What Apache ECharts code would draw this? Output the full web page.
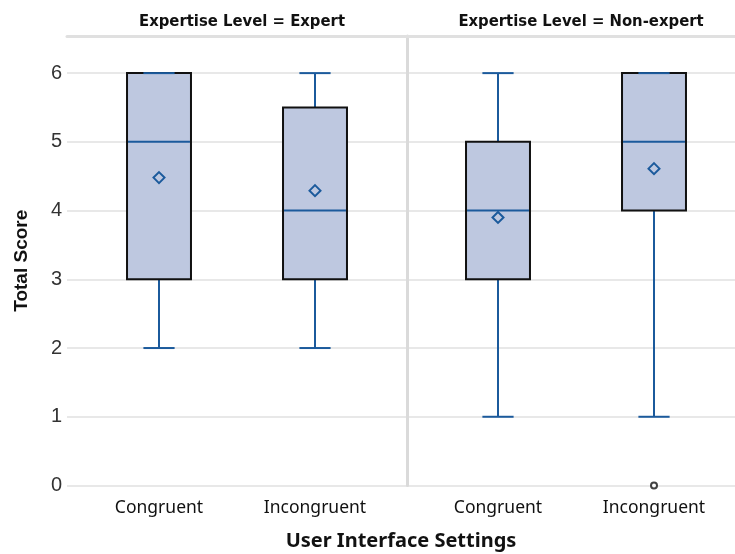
<!DOCTYPE html>
<html>
<head>
<meta charset="utf-8">
<script src="https://cdn.jsdelivr.net/npm/echarts@6/dist/echarts.min.js"></script>
<style>
  html, body { margin: 0; padding: 0; background: #fff; }
  #chart { width: 735px; height: 554px; }
</style>
</head>
<body>
<div id="chart"></div>
<script>
// Panels and categories
const panelTitles = ['Expertise Level = Expert', 'Expertise Level = Non-expert'];
const categories = ['Congruent', 'Incongruent'];
const yTicks = [0, 1, 2, 3, 4, 5, 6];

// Box statistics per panel: [min, Q1, median, Q3, max]
const expertStats = [
  [2, 3, 5, 6, 6],
  [2, 3, 4, 5.5, 6]
];
const nonExpertStats = [
  [1, 3, 4, 5, 6],
  [1, 4, 5, 6, 6]
];
// Means (diamond markers)
const expertMeans = [4.48, 4.29];
const nonExpertMeans = [3.9, 4.61];
// Outliers: [category index, value]
const expertOutliers = [];
const nonExpertOutliers = [[1, 0]];

const BLUE = '#1b5a9c';
const FILL = '#bec8e0';
const GRID_COLOR = '#e0e0e0';
const Y_MIN = 0, Y_MAX = 6.54;

function boxData(stats, means) {
  return stats.map((s, i) => [i, s[0], s[1], s[2], s[3], s[4], means[i]]);
}

function renderBox(params, api) {
  const x = api.value(0);
  const band = api.size([1, 0])[0];
  const boxW = band * 0.41;
  const capW = band * 0.2;
  const pMin = api.coord([x, api.value(1)]);
  const pQ1 = api.coord([x, api.value(2)]);
  const pMed = api.coord([x, api.value(3)]);
  const pQ3 = api.coord([x, api.value(4)]);
  const pMax = api.coord([x, api.value(5)]);
  const pMean = api.coord([x, api.value(6)]);
  const cx = pMed[0];
  const lineStyle = { stroke: BLUE, lineWidth: 2 };
  const children = [
    { type: 'line', shape: { x1: cx, y1: pQ1[1], x2: cx, y2: pMin[1] }, style: lineStyle },
    { type: 'line', shape: { x1: cx, y1: pQ3[1], x2: cx, y2: pMax[1] }, style: lineStyle },
    { type: 'rect', shape: { x: cx - boxW / 2, y: pQ3[1], width: boxW, height: pQ1[1] - pQ3[1] },
      style: { fill: FILL, stroke: '#111', lineWidth: 2 } },
    { type: 'line', shape: { x1: cx - capW / 2, y1: pMin[1], x2: cx + capW / 2, y2: pMin[1] }, style: lineStyle },
    { type: 'line', shape: { x1: cx - capW / 2, y1: pMax[1], x2: cx + capW / 2, y2: pMax[1] }, style: lineStyle },
    { type: 'line', shape: { x1: cx - boxW / 2 + 1, y1: pMed[1], x2: cx + boxW / 2 - 1, y2: pMed[1] }, style: lineStyle },
    { type: 'polygon', shape: { points: [[cx, pMean[1] - 5.5], [cx + 5.5, pMean[1]], [cx, pMean[1] + 5.5], [cx - 5.5, pMean[1]]] },
      style: { fill: 'none', stroke: BLUE, lineWidth: 2 } }
  ];
  return { type: 'group', children: children };
}

const yLabelFormatter = v => (Number.isInteger(v) && yTicks.includes(v)) ? String(v) : '';

const chart = echarts.init(document.getElementById('chart'), null, { renderer: 'canvas' });

const plotTop = 36, plotBottom = 68.5;
const headerStyle = { fontFamily: 'Liberation Sans Narrow, DejaVu Sans Condensed, sans-serif', fontWeight: 'bold', fontSize: 16.5, color: '#111' };
const catLabel = { margin: 14, fontFamily: 'Noto Sans, sans-serif', fontSize: 17.5, color: '#111' };
const topBorder = { show: true, onZero: false, lineStyle: { color: GRID_COLOR, width: 3 } };

chart.setOption({
  backgroundColor: '#fff',
  animation: false,
  title: [
    { text: panelTitles[0], left: 237, top: 8, textAlign: 'center', textStyle: headerStyle },
    { text: panelTitles[1], left: 576, top: 8, textAlign: 'center', textStyle: headerStyle },
    { text: 'User Interface Settings', left: 401, top: 530, padding: 0, textAlign: 'center',
      textStyle: { fontFamily: 'Noto Sans, sans-serif', fontWeight: 'bold', fontSize: 20, lineHeight: 22, color: '#111' } }
  ],
  grid: [
    { left: 67, width: 340, top: plotTop, bottom: plotBottom },
    { left: 407, width: 338, top: plotTop, bottom: plotBottom },
    { left: 81, width: 312, top: plotTop, bottom: plotBottom },
    { left: 420, width: 312, top: plotTop, bottom: plotBottom }
  ],
  xAxis: [
    { gridIndex: 0, type: 'value', position: 'top', min: 0, max: 1, axisLine: topBorder,
      axisTick: { show: false }, axisLabel: { show: false }, splitLine: { show: false } },
    { gridIndex: 1, type: 'value', position: 'top', min: 0, max: 1, axisLine: topBorder,
      axisTick: { show: false }, axisLabel: { show: false }, splitLine: { show: false } },
    { gridIndex: 2, type: 'category', data: categories, boundaryGap: true,
      axisLine: { show: false }, axisTick: { show: false }, axisLabel: catLabel },
    { gridIndex: 3, type: 'category', data: categories, boundaryGap: true,
      axisLine: { show: false }, axisTick: { show: false }, axisLabel: catLabel }
  ],
  yAxis: [
    { gridIndex: 0, type: 'value', min: Y_MIN, max: Y_MAX, interval: 1,
      name: 'Total Score', nameLocation: 'middle', nameGap: 36, nameRotate: 90,
      nameTextStyle: { fontFamily: 'Liberation Sans, Arial, sans-serif', fontWeight: 'bold', fontSize: 19, color: '#111' },
      axisLine: { show: false }, axisTick: { show: false },
      axisLabel: { margin: 5, fontFamily: 'Liberation Sans, Arial, sans-serif', fontSize: 20, color: '#333', formatter: yLabelFormatter },
      splitLine: { show: true, showMaxLine: false, lineStyle: { color: GRID_COLOR, width: 1.5 } } },
    { gridIndex: 1, type: 'value', min: Y_MIN, max: Y_MAX, interval: 1,
      axisLine: { show: true, onZero: false, lineStyle: { color: '#dadada', width: 3 } },
      axisTick: { show: false }, axisLabel: { show: false },
      splitLine: { show: true, showMaxLine: false, lineStyle: { color: GRID_COLOR, width: 1.5 } } },
    { gridIndex: 2, type: 'value', min: Y_MIN, max: Y_MAX, show: false, splitLine: { show: false } },
    { gridIndex: 3, type: 'value', min: Y_MIN, max: Y_MAX, show: false, splitLine: { show: false } }
  ],
  series: [
    { type: 'custom', xAxisIndex: 2, yAxisIndex: 2, renderItem: renderBox,
      data: boxData(expertStats, expertMeans), z: 5 },
    { type: 'custom', xAxisIndex: 3, yAxisIndex: 3, renderItem: renderBox,
      data: boxData(nonExpertStats, nonExpertMeans), z: 5 },
    { type: 'scatter', xAxisIndex: 2, yAxisIndex: 2, data: expertOutliers,
      symbol: 'circle', symbolSize: 6, itemStyle: { color: '#fff', borderColor: '#111', borderWidth: 2 }, z: 6 },
    { type: 'scatter', xAxisIndex: 3, yAxisIndex: 3, data: nonExpertOutliers,
      symbol: 'circle', symbolSize: 6, itemStyle: { color: '#fff', borderColor: '#111', borderWidth: 2 }, z: 6 }
  ]
});
</script>
</body>
</html>
